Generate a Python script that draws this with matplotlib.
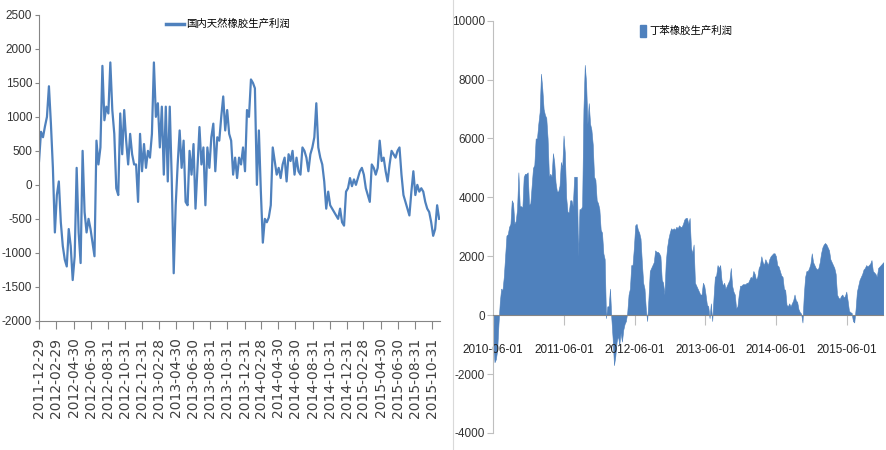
import matplotlib
matplotlib.use('Agg')
import matplotlib.pyplot as plt
import pandas as pd
from matplotlib import font_manager
from matplotlib.font_manager import FontProperties
from matplotlib.lines import Line2D
from matplotlib.patches import Patch

# 国内天然橡胶生产利润 (weekly readings)
nr_start, nr_end = '2011-12-29', '2015-11-25'
nr_profit = [
    350, 780, 700, 860, 1000, 1450, 900, 250, -700, -150, 50, -550, -900, -1100, -1200, -650,
    -900, -1400, -1050, 250, -700, -1150, 500, -400, -700, -500, -650, -850, -1050, 650, 300, 550,
    1750, 950, 1150, 1050, 1800, 1100, 750, -50, -150, 1050, 450, 1100, 650, 300, 750, 450, 300,
    300, -250, 750, 200, 600, 250, 500, 400, 750, 1800, 1000, 1200, 550, 1150, 150, 1150,
    50, 1150, 100, -1300, -300, 300, 800, 250, 650, -250, -300, 500, 150, 600, -350, 250,
    850, 300, 550, -300, 550, 250, 700, 900, 200, 700, 650, 1000, 1300, 800, 1100, 750, 650, 150, 400,
    100, 400, 300, 550, 200, 1100, 1000, 1550, 1500, 1420, 0, 800, -100, -850, -500, -550,
    -480, -300, 550, 350, 150, 250, 100, 300, 400, 50, 450, 350, 500, 150, 400, 200,
    150, 550, 500, 400, 200, 450, 550, 700, 1200, 550, 400, 300, 50, -350, -100, -300, -350, -400, -450,
    -500, -350, -550, -600, -100, -50, 100, -20, 80, 0, 100, 200, 250, 150, -50, -150,
    -250, 300, 250, 150, 250, 650, 350, 400, 200, 50, 300, 500, 450, 400, 500, 550,
    150, -150, -250, -350, -450, -100, 200, -150, 0, -100, -50, -100, -250, -350, -400, -550,
    -750, -650, -300, -500,
]
nr_ticks = ['2011-12-29', '2012-02-29', '2012-04-30', '2012-06-30', '2012-08-31', '2012-10-31',
            '2012-12-31', '2013-02-28', '2013-04-30', '2013-06-30', '2013-08-31', '2013-10-31',
            '2013-12-31', '2014-02-28', '2014-04-30', '2014-06-30', '2014-08-31', '2014-10-31',
            '2014-12-31', '2015-02-28', '2015-04-30', '2015-06-30', '2015-08-31', '2015-10-31']

# 丁苯橡胶生产利润 (weekly readings)
sbr_start, sbr_end = '2010-06-01', '2015-12-08'
sbr_profit = [
    -1000, -1600, -1500, -1200, -300, 450, 900, 850, 1300, 2000, 2700, 2750, 3000, 3100, 3900, 3800,
    3100, 3200, 3600, 4850, 3700, 3700, 3650, 4700, 4800, 4800, 4850, 3750, 3800, 4400, 5000, 5100,
    6000, 6000, 6500, 6900, 8200, 7700, 7000, 6800, 6700, 6000, 4700, 4800, 4700, 5500, 5200, 4500,
    4200, 4200, 4400, 5200, 5000, 6100, 5500, 4000, 3500, 3500, 3900, 3900, 3700, 4700, 4700, 4700,
    2000, 3600, 3600, 3700, 7000, 8500, 7900, 6500,
    7200, 6500, 6300, 5800, 4700, 4600, 3900, 3800, 3600, 2900, 2800, 2100, 1900, -100, 300, 300,
    900, -100, -800, -1700, -1400, -900, -700, -1000, -600, -900, -500, -300, -200, 100, 700, 900,
    1700, 1700, 2300, 3050, 3100, 2900, 2800, 2600, 1800, 1100, 900, 200, -200, 600, 1500, 1600,
    1700, 1800, 2200, 2150, 2150, 2100, 2000, 1200, 1100, 700, 1800, 2300, 2600, 2800, 2950, 2900,
    2950, 2900, 3000, 2950, 3050, 3000, 3000, 3100, 3250, 3300, 3300, 3100,
    3300, 2300, 2100, 2400, 1100, 1000, 900, 800, 700, 700, 1100, 1000, 700, 350, 300, -100,
    400, -200, 600, 1300, 1350, 1700, 1600, 1700, 1200, 1000, 1100, 900, 1000, 1100, 1200, 1600,
    1000, 800, 700, 230, 300, 700, 1000, 1000, 1050, 1050, 1050, 1100, 1100, 1200, 1300, 1250,
    1500, 1400, 1200, 1300, 1600, 1700, 2000, 1800, 1700, 1900, 1800, 1700, 1900, 2000, 2050, 2100,
    2100, 2000, 1700, 1650, 1500, 1350, 1300, 900, 850, 350, 300, 400,
    300, 400, 500, 700, 500, 450, 200, 100, 50, -250, 700, 1300, 1500, 1500, 1600, 1750,
    2100, 1800, 1700, 1600, 1550, 1600, 1800, 2100, 2300, 2400, 2450, 2400, 2300, 2200, 1900, 1800,
    1700, 1600, 1400, 700, 600, 550, 650, 700, 600, 650, 800, 500, 150, 100, 80, -200,
    -250, 200, 800, 1000, 1200, 1300, 1400, 1550, 1600, 1700, 1650, 1700, 1750, 1870, 1500, 1450,
    1400, 1300, 1600, 1650, 1700, 1750, 1800,
]
sbr_ticks = ['2010-06-01', '2011-06-01', '2012-06-01', '2013-06-01', '2014-06-01', '2015-06-01']


def have_font(name):
    try:
        font_manager.findfont(FontProperties(family=name), fallback_to_default=False)
        return True
    except ValueError:
        return False


narrow = 'Liberation Sans Narrow' if have_font('Liberation Sans Narrow') else 'Liberation Sans'
cjk = FontProperties(family=['Noto Sans CJK SC', 'DejaVu Sans'], size=7.5)

blue = '#4F81BD'
grey = '#868686'
light = '#BFBFBF'

fig = plt.figure(figsize=(8.87, 4.5), dpi=100)

# ---- left: natural rubber ----
ax1 = fig.add_axes([0.044, 0.287, 0.452, 0.680])
x1 = pd.date_range(nr_start, nr_end, periods=len(nr_profit))
ax1.plot(x1, nr_profit, color=blue, lw=1.6)
ax1.set_xlim(pd.Timestamp(nr_start), pd.Timestamp('2015-11-28'))
ax1.set_ylim(-2000, 2500)
for s in ['top', 'right']:
    ax1.spines[s].set_visible(False)
for s in ['left', 'bottom']:
    ax1.spines[s].set_color(grey)
    ax1.spines[s].set_linewidth(0.8)
ax1.set_yticks(range(-2000, 2501, 500))
ax1.set_yticklabels([str(v) for v in range(-2000, 2501, 500)])
ax1.set_xticks(pd.to_datetime(nr_ticks))
ax1.set_xticklabels(nr_ticks, rotation=90)
ax1.tick_params(axis='y', length=3, pad=2, color=grey, labelsize=8.5,
                labelfontfamily=narrow, labelcolor='#333333')
ax1.tick_params(axis='x', length=6, pad=6, color=grey, labelsize=10,
                labelfontfamily='DejaVu Sans', labelcolor='#404040')
ax1.legend(handles=[Line2D([], [], color=blue, lw=2.5)], labels=['国内天然橡胶生产利润'],
           loc='center', bbox_to_anchor=(0.471, 0.97), frameon=False, prop=cjk,
           handlelength=1.8, handletextpad=0.2)

# ---- right: SBR ----
ax2 = fig.add_axes([0.556, 0.038, 0.440, 0.916])
x2 = pd.date_range(sbr_start, sbr_end, periods=len(sbr_profit))
ax2.fill_between(x2, sbr_profit, 0, facecolor=blue, edgecolor=blue, lw=0.4)
ax2.set_xlim(x2[0], x2[-1])
ax2.set_ylim(-4000, 10000)
for s in ['top', 'right']:
    ax2.spines[s].set_visible(False)
ax2.spines['bottom'].set_position(('data', 0))
ax2.spines['bottom'].set_color(grey)
ax2.spines['left'].set_color(light)
ax2.set_yticks(range(-4000, 10001, 2000))
ax2.set_yticklabels([str(v) for v in range(-4000, 10001, 2000)])
ax2.set_xticks(pd.to_datetime(sbr_ticks))
ax2.set_xticklabels(sbr_ticks)
ax2.tick_params(axis='y', length=4, pad=2, color=light, labelsize=8.5,
                labelfontfamily=narrow, labelcolor='#333333')
ax2.tick_params(axis='x', length=7, pad=14, color=light, labelsize=8.5,
                labelfontfamily=narrow, labelcolor='#222222')
ax2.legend(handles=[Patch(color=blue)], labels=['丁苯橡胶生产利润'],
           loc='center', bbox_to_anchor=(0.495, 0.976), frameon=False, prop=cjk,
           handlelength=0.6, handleheight=1.4, handletextpad=0.3)

fig.add_artist(Line2D([453 / 887, 453 / 887], [0, 1], color='#D9D9D9', lw=0.8))

fig.savefig('out.png', dpi=100)
